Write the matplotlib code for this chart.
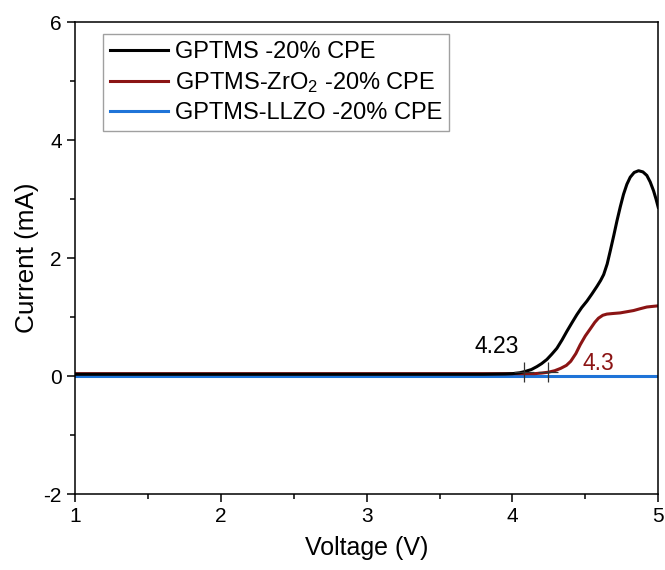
import matplotlib.pyplot as plt
from matplotlib.ticker import MultipleLocator

plt.rcParams['font.family'] = ['Liberation Sans', 'DejaVu Sans']
plt.rcParams['mathtext.fontset'] = 'custom'
plt.rcParams['mathtext.rm'] = 'Liberation Sans'
plt.rcParams['mathtext.it'] = 'Liberation Sans:italic'
plt.rcParams['axes.unicode_minus'] = False

# GPTMS -20% CPE
v_gptms = [1.0, 1.5, 2.0, 2.5, 3.0, 3.5, 3.8, 3.95, 4.0, 4.05, 4.087, 4.13, 4.168, 4.2,
           4.236, 4.27, 4.305, 4.34, 4.374, 4.41, 4.442, 4.475, 4.511, 4.545, 4.58,
           4.605, 4.626, 4.65, 4.671, 4.695, 4.717, 4.74, 4.762, 4.785, 4.808, 4.835,
           4.865, 4.895, 4.922, 4.945, 4.968, 4.985, 5.0]
i_gptms = [0.03, 0.03, 0.03, 0.03, 0.03, 0.03, 0.03, 0.035, 0.04, 0.055, 0.077, 0.11, 0.16, 0.21,
           0.28, 0.37, 0.47, 0.61, 0.76, 0.91, 1.04, 1.16, 1.27, 1.39, 1.52,
           1.62, 1.72, 1.90, 2.12, 2.38, 2.63, 2.87, 3.08, 3.25, 3.37, 3.45,
           3.48, 3.46, 3.40, 3.29, 3.14, 3.00, 2.86]

# GPTMS-ZrO2 -20% CPE
v_zro2 = [1.0, 1.5, 2.0, 2.5, 3.0, 3.5, 4.0, 4.15, 4.2, 4.247, 4.29, 4.331, 4.37, 4.40,
          4.435, 4.465, 4.50, 4.537, 4.565, 4.59, 4.62, 4.648, 4.69, 4.739, 4.785,
          4.831, 4.875, 4.922, 4.96, 5.0]
i_zro2 = [0.04, 0.04, 0.04, 0.04, 0.04, 0.04, 0.04, 0.04, 0.05, 0.065, 0.09, 0.13, 0.18, 0.25,
          0.38, 0.53, 0.68, 0.81, 0.91, 0.98, 1.03, 1.05, 1.06, 1.07, 1.09,
          1.11, 1.14, 1.17, 1.18, 1.19]

# GPTMS-LLZO -20% CPE
v_llzo = [1.0, 2.0, 3.0, 4.0, 5.0]
i_llzo = [0.0, 0.0, 0.0, 0.0, 0.0]

onset_v = [4.08, 4.247]
onset_i = [0.07, 0.06]

fig = plt.figure(figsize=(6.65, 5.7), dpi=100)
ax = fig.add_axes([0.1128, 0.1333, 0.877, 0.828])

ax.plot(v_gptms, i_gptms, color='black', lw=2.2, label='GPTMS -20% CPE', zorder=3,
        solid_joinstyle='round')
ax.plot(v_zro2, i_zro2, color='#8b1414', lw=2.2, label='GPTMS-ZrO$_2$ -20% CPE', zorder=2,
        solid_joinstyle='round')
ax.plot(v_llzo, i_llzo, color='#1f74d8', lw=2.2, label='GPTMS-LLZO -20% CPE', zorder=1)

# onset markers
ax.plot(onset_v, onset_i, ls='none', marker='+', ms=15, mew=0.9, color='#333333', zorder=4)
ax.text(3.89, 0.5, '4.23', fontsize=16.5, ha='center', va='center', color='black')
ax.text(4.59, 0.22, '4.3', fontsize=16.5, ha='center', va='center', color='#8b1414')

ax.set_xlim(1, 5)
ax.set_ylim(-2, 6)
ax.xaxis.set_major_locator(MultipleLocator(1))
ax.xaxis.set_minor_locator(MultipleLocator(0.5))
ax.yaxis.set_major_locator(MultipleLocator(2))
ax.yaxis.set_minor_locator(MultipleLocator(1))
ax.tick_params(which='major', direction='out', length=6, width=1.1, labelsize=15)
ax.tick_params(which='minor', direction='out', length=3.5, width=1.1)
for s in ax.spines.values():
    s.set_linewidth(1.1)

ax.set_xlabel('Voltage (V)', fontsize=18, labelpad=7)
ax.set_ylabel('Current (mA)', fontsize=18.8, labelpad=3)

leg = ax.legend(loc='upper left', bbox_to_anchor=(0.048, 0.975), borderaxespad=0,
                fontsize=17, handlelength=2.45, handletextpad=0.3, labelspacing=0.3,
                fancybox=False, edgecolor='#888888', borderpad=0.3)
leg.get_frame().set_linewidth(1.0)

plt.savefig('out.png', dpi=100)
